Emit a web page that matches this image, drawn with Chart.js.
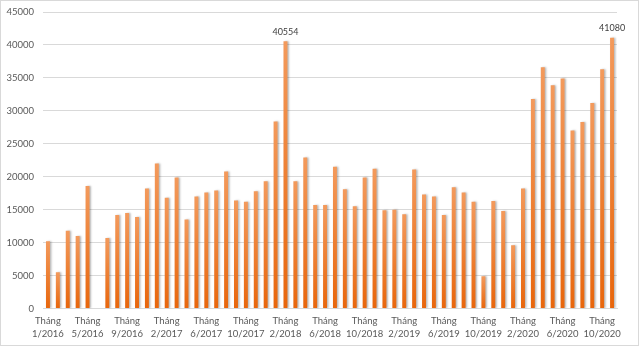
<!DOCTYPE html>
<html>
<head>
<meta charset="utf-8">
<script src="https://cdn.jsdelivr.net/npm/chart.js@4/dist/chart.umd.min.js"></script>
<style>
  html, body { margin: 0; padding: 0; background: #fff; }
  #wrap { position: relative; width: 640px; height: 347px; }
  #frame { position: absolute; left: 0; top: 0; width: 639px; height: 346px; box-sizing: border-box; border: 1px solid #d9d9d9; pointer-events: none; }
  canvas { display: block; }
</style>
</head>
<body>
<div id="wrap">
  <canvas id="c" width="640" height="347"></canvas>
  <div id="frame"></div>
</div>
<script>
const months = [
  "1/2016","2/2016","3/2016","4/2016","5/2016","6/2016","7/2016","8/2016","9/2016","10/2016","11/2016","12/2016",
  "2/2017","3/2017","4/2017","5/2017","6/2017","7/2017","8/2017","9/2017","10/2017","11/2017","12/2017",
  "1/2018","2/2018","3/2018","4/2018","5/2018","6/2018","7/2018","8/2018","9/2018","10/2018","11/2018","12/2018",
  "1/2019","2/2019","3/2019","4/2019","5/2019","6/2019","7/2019","8/2019","9/2019","10/2019","11/2019","12/2019",
  "1/2020","2/2020","3/2020","4/2020","5/2020","6/2020","7/2020","8/2020","9/2020","10/2020","11/2020"
];
const categories = months.map(m => "Tháng " + m);
const values = [
  10200, 5500, 11800, 11000, 18600, null, 10700, 14200, 14500, 13900, 18200, 22000,
  16800, 19900, 13500, 17000, 17600, 17900, 20800, 16400, 16200, 17800, 19300,
  28400, 40554, 19300, 22900, 15700, 15700, 21500, 18100, 15500, 19900, 21200, 14900,
  15000, 14300, 21100, 17300, 17000, 14200, 18400, 17600, 16200, 4900, 16300, 14800,
  9600, 18200, 31800, 36600, 33900, 34900, 27000, 28300, 31200, 36300, 41080
];
const labeledPoints = [24, 57];
const yTicks = [0, 5000, 10000, 15000, 20000, 25000, 30000, 35000, 40000, 45000];

const FONT = "Lato, 'Open Sans', sans-serif";

const shadowPlugin = {
  id: 'barShadow',
  beforeDatasetsDraw(chart) {
    const ctx = chart.ctx;
    ctx.save();
    ctx.shadowColor = 'rgba(0,0,0,0.28)';
    ctx.shadowBlur = 2;
    ctx.shadowOffsetX = 1.5;
    ctx.shadowOffsetY = 0;
  },
  afterDatasetsDraw(chart) {
    chart.ctx.restore();
    const ctx = chart.ctx;
    const meta = chart.getDatasetMeta(0);
    ctx.save();
    ctx.font = "9px " + FONT;
    ctx.fillStyle = '#404040';
    ctx.textAlign = 'center';
    ctx.textBaseline = 'bottom';
    labeledPoints.forEach(i => {
      const el = meta.data[i];
      if (!el) return;
      ctx.fillText(String(values[i]), el.x, el.y - 5);
    });
    ctx.restore();
  }
};

new Chart(document.getElementById('c'), {
  type: 'bar',
  data: {
    labels: categories,
    datasets: [{
      data: values,
      backgroundColor(context) {
        const chart = context.chart;
        const area = chart.chartArea;
        if (!area) return '#ED7D31';
        const v = context.parsed ? context.parsed.y : null;
        if (v == null) return '#ED7D31';
        const yTop = chart.scales.y.getPixelForValue(v);
        const yBot = chart.scales.y.getPixelForValue(0);
        const g = chart.ctx.createLinearGradient(0, yTop, 0, yBot);
        g.addColorStop(0, '#F39A5C');
        g.addColorStop(1, '#E8660C');
        return g;
      },
      borderWidth: 0,
      barPercentage: 0.4,
      categoryPercentage: 1.0
    }]
  },
  options: {
    responsive: false,
    animation: false,
    events: [],
    layout: { padding: { left: 0, right: 23, top: 12, bottom: 0 } },
    plugins: { legend: { display: false }, tooltip: { enabled: false }, title: { display: false } },
    scales: {
      x: {
        grid: { display: false, drawTicks: false },
        border: { display: true, color: '#d9d9d9' },
        ticks: {
          autoSkip: false,
          maxRotation: 0,
          minRotation: 0,
          padding: 6,
          color: '#595959',
          font: { family: FONT, size: 9.5, lineHeight: 1.35 },
          callback(value, index) {
            if (index % 4 !== 0) return '';
            return ['Tháng', months[index]];
          }
        },
        afterFit(scale) { scale.height = 38.5; scale.paddingLeft = 0; scale.paddingRight = 0; }
      },
      y: {
        min: 0,
        max: 45000,
        afterBuildTicks(scale) { scale.ticks = yTicks.map(v => ({ value: v })); },
        grid: { color: '#d9d9d9', lineWidth: 1, drawTicks: false },
        border: { display: false },
        ticks: {
          padding: 9,
          color: '#595959',
          font: { family: FONT, size: 9.5 },
          callback(v) { return String(v); }
        },
        afterFit(scale) { scale.width = 43; scale.paddingTop = 0; scale.paddingBottom = 0; }
      }
    }
  },
  plugins: [shadowPlugin]
});
</script>
</body>
</html>
